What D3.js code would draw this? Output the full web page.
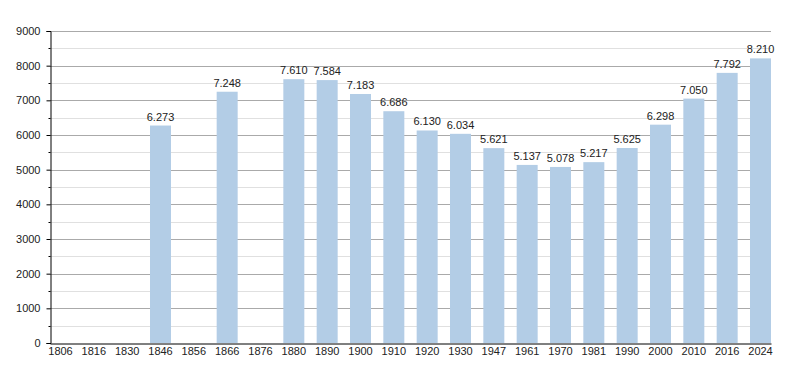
<!DOCTYPE html>
<html>
<head>
<meta charset="utf-8">
<script src="https://cdn.jsdelivr.net/npm/d3@7"></script>
<style>
  body { margin: 0; background: #fff; }
  svg text { font-family: "Liberation Sans", Arial, sans-serif; fill: #222; }
</style>
</head>
<body>
<svg id="chart"></svg>
<script>
// census years, null where there's no count
const years = ["1806","1816","1830","1846","1856","1866","1876","1880","1890","1900","1910",
    "1920","1930","1947","1961","1970","1981","1990","2000","2010","2016","2024"]
const population = [null, null, null, 6273, null, 7248, null, 7610, 7584, 7183, 6686,
    6130, 6034, 5621, 5137, 5078, 5217, 5625, 6298, 7050, 7792, 8210]
const yTicks = [0, 1000, 2000, 3000, 4000, 5000, 6000, 7000, 8000, 9000]
const yMinor = [500, 1500, 2500, 3500, 4500, 5500, 6500, 7500, 8500]

const width = 800, height = 373
const margins = {left: 50, right: 29, top: 31, bottom: 30}

const svg = d3.select("#chart").attr("width", width).attr("height", height)

const x = d3.scaleBand().domain(years)
    .range([margins.left, width - margins.right])
    .paddingInner(0.37).paddingOuter(0)
const y = d3.scaleLinear().domain([0, 9000]).range([height - margins.bottom, margins.top])

const fmt = v => d3.format(",")(v).replace(/,/g, ".")

// grid
svg.append("g").selectAll("line").data(yMinor).join("line")
    .attr("x1", margins.left).attr("x2", width - margins.right)
    .attr("y1", d => Math.round(y(d)) + 0.5).attr("y2", d => Math.round(y(d)) + 0.5)
    .attr("stroke", "#e0e0e0")
svg.append("g").selectAll("line").data(yTicks.slice(1)).join("line")
    .attr("x1", margins.left).attr("x2", width - margins.right)
    .attr("y1", d => Math.round(y(d)) + 0.5).attr("y2", d => Math.round(y(d)) + 0.5)
    .attr("stroke", "#aaaaaa")

// bars
const data = years.map((yr, i) => ({year: yr, value: population[i]})).filter(d => d.value != null)
svg.append("g").selectAll("rect").data(data).join("rect")
    .attr("x", d => x(d.year))
    .attr("width", x.bandwidth())
    .attr("y", d => y(d.value))
    .attr("height", d => y(0) - y(d.value))
    .attr("fill", "#b3cde6")

svg.append("g").selectAll("text").data(data).join("text")
    .attr("x", d => x(d.year) + x.bandwidth() / 2)
    .attr("y", d => y(d.value) - 5)
    .attr("text-anchor", "middle")
    .attr("font-size", 11)
    .text(d => fmt(d.value))

// axes
const yAxis = d3.axisLeft(y).tickValues(yTicks).tickSize(4).tickPadding(6).tickFormat(d3.format("d"))
const yAx = svg.append("g").attr("transform", `translate(${margins.left + 0.5},0)`).call(yAxis)
yAx.select(".domain").attr("stroke", "#000")
yAx.selectAll("text").attr("font-size", 11).attr("font-family", "Liberation Sans, Arial, sans-serif").attr("fill", "#222")
yAx.append("g").selectAll("line").data(yMinor).join("line")
    .attr("x1", -2).attr("x2", 0)
    .attr("y1", d => Math.round(y(d)) + 0.5).attr("y2", d => Math.round(y(d)) + 0.5)
    .attr("stroke", "#000")

const xAxis = d3.axisBottom(x).tickSize(0).tickPadding(4)
const xAx = svg.append("g").attr("transform", `translate(0,${y(0) + 0.5})`).call(xAxis)
xAx.select(".domain").attr("stroke", "#000")
xAx.selectAll("text").attr("font-size", 11).attr("font-family", "Liberation Sans, Arial, sans-serif").attr("fill", "#222")
</script>
</body>
</html>
